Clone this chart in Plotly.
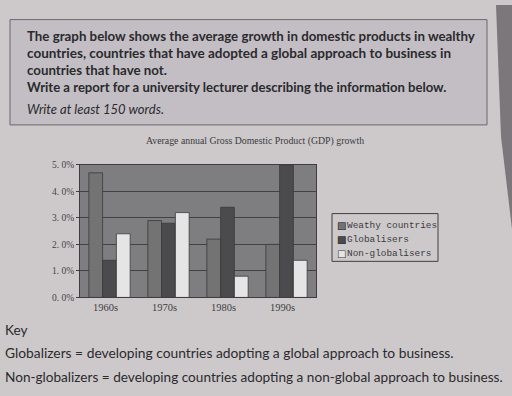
import plotly.graph_objects as go

W, H = 512, 396

decades = ["1960s", "1970s", "1980s", "1990s"]
wealthy = [4.7, 2.9, 2.2, 2.0]
globalisers = [1.4, 2.8, 3.4, 5.0]
non_globalisers = [2.4, 3.2, 0.8, 1.4]
series_names = ["Weathy countries", "Globalisers", "Non-globalisers"]
series_colors = ["#747374", "#4b4a4c", "#e6e5e6"]
y_tickvals = [0, 1, 2, 3, 4, 5]
y_ticktext = ["0. 0%", "1. 0%", "2. 0%", "3. 0%", "4. 0%", "5. 0%"]

def px(x):
    return x / W

def py(y):
    return 1 - y / H

fig = go.Figure()
for name, vals, col in zip(series_names, [wealthy, globalisers, non_globalisers], series_colors):
    fig.add_trace(go.Bar(x=decades, y=vals, name=name, showlegend=False,
                         marker=dict(color=col, line=dict(color="#3a393b", width=0.8))))

shapes = []
# book edge on the right (dark gutter at the top right, fading downward)
shapes.append(dict(type="path", xref="paper", yref="paper",
                   path="M %f,1 L 1,1 L 1,%f L %f,%f Z" % (px(496), py(230), px(501), py(135)),
                   fillcolor="#7b777a", line=dict(width=0), layer="below"))
# task box
shapes.append(dict(type="rect", xref="paper", yref="paper", x0=px(10), x1=px(487), y0=py(123), y1=py(15),
                   fillcolor="#c2bec4", line=dict(color="#6a686b", width=1), layer="below"))
# legend box
shapes.append(dict(type="rect", xref="paper", yref="paper", x0=px(332), x1=px(438), y0=py(263), y1=py(214),
                   fillcolor="rgba(0,0,0,0)", line=dict(color="#3f3e40", width=1)))

ann = []
text_col = "#2b2a2d"
top_font = "Lato"
lines = [
    ("<b>The graph below shows the average growth in domestic products in wealthy</b>", 32, 13.3),
    ("<b>countries, countries that have adopted a global approach to business in</b>", 49, 13.5),
    ("<b>countries that have not.</b>", 67, 13.3),
    ("<b>Write a report for a university lecturer describing the information below.</b>", 84, 13.1),
    ("<i>Write at least 150 words.</i>", 107, 13),
]
for t, y, s in lines:
    ann.append(dict(text=t, x=px(25), y=py(y), xref="paper", yref="paper", xanchor="left", yanchor="middle",
                    showarrow=False, font=dict(family=top_font, size=s, color=text_col)))

ann.append(dict(text="Average annual Gross Domestic Product (GDP) growth", x=px(255), y=py(140),
                xref="paper", yref="paper", xanchor="center", yanchor="middle", showarrow=False,
                font=dict(family="Liberation Serif", size=9.8, color="#3a393c")))

# legend entries
leg_font = dict(family="Liberation Mono", size=9.4, color="#3a393c")
for i, (name, col) in enumerate(zip(series_names, series_colors)):
    y = 226 + i * 14.5
    ann.append(dict(text="■", x=px(335), y=py(y), xref="paper",
                    yref="paper", xanchor="left", yanchor="middle", showarrow=False,
                    font=dict(family="DejaVu Sans", size=10, color=col)))
    ann.append(dict(text="□", x=px(335), y=py(y), xref="paper",
                    yref="paper", xanchor="left", yanchor="middle", showarrow=False,
                    font=dict(family="DejaVu Sans", size=10, color="#333235")))
    ann.append(dict(text=name, x=px(345), y=py(y), xref="paper", yref="paper", xanchor="left",
                    yanchor="middle", showarrow=False, font=leg_font))

ann.append(dict(text="Key", x=px(3), y=py(333), xref="paper", yref="paper", xanchor="left",
                yanchor="middle", showarrow=False, font=dict(family="Lato", size=13.6, color=text_col)))
ann.append(dict(text="Globalizers = developing countries adopting a global approach to business.",
                x=px(3), y=py(357), xref="paper", yref="paper", xanchor="left", yanchor="middle",
                showarrow=False, font=dict(family="Lato", size=13.8, color=text_col)))
ann.append(dict(text="Non-globalizers = developing countries adopting a non-global approach to business.",
                x=px(3), y=py(382), xref="paper", yref="paper", xanchor="left", yanchor="middle",
                showarrow=False, font=dict(family="Lato", size=13.6, color=text_col)))

fig.update_layout(
    width=W, height=H, autosize=False,
    margin=dict(l=0, r=0, t=0, b=0),
    paper_bgcolor="#cdc9cb",
    plot_bgcolor="#7e7d80",
    barmode="group", bargap=0.3, bargroupgap=0,
    shapes=shapes, annotations=ann,
    xaxis=dict(domain=[px(80), px(316)], showgrid=False, ticks="",
               tickfont=dict(family="Liberation Serif", size=10.5, color="#3e3d40"),
               showline=True, linecolor="#3e3d40", linewidth=1, ticklabelshift=-4, mirror=True),
    yaxis=dict(domain=[py(300), py(164)], range=[0, 5], tickvals=y_tickvals, ticktext=y_ticktext,
               showgrid=True, gridcolor="#424144", gridwidth=1, zeroline=False,
               ticks="outside", ticklen=3, tickcolor="#3e3d40",
               tickfont=dict(family="Liberation Serif", size=9.5, color="#444346"),
               showline=True, linecolor="#3e3d40", linewidth=1, mirror=True),
)

fig.write_html("out.html", config={"displayModeBar": False},
               post_script="document.body.style.margin='0';document.body.style.overflow='hidden';")
